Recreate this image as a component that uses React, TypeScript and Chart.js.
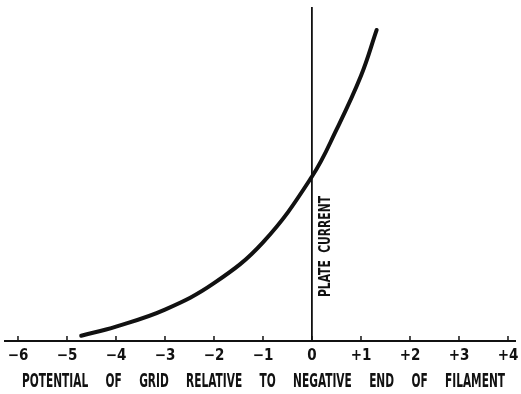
import React, { useEffect, useRef } from "react";
import { Chart, registerables } from "chart.js";

Chart.register(...registerables);

// Grid potential (volts) and plate current (relative units)
const gridPotential = [-4.71, -4.0, -3.0, -2.0, -1.0, 0.0, 0.5, 1.0, 1.32];
const plateCurrent = [5.3, 14.5, 31.5, 58, 99, 165, 212, 266, 312];
const xTicks = [-6, -5, -4, -3, -2, -1, 0, 1, 2, 3, 4];
const xTitleWords = ["POTENTIAL", "OF", "GRID", "RELATIVE", "TO", "NEGATIVE", "END", "OF", "FILAMENT"];
const yLabel = "PLATE  CURRENT";

const FONT = "'DejaVu Sans Condensed', 'DejaVu Sans', sans-serif";

const fmtTick = (v: number) => (v === 0 ? "0" : v > 0 ? "+" + v : "\u2212" + Math.abs(v));

const decorPlugin = {
  id: "decor",
  afterDraw(chart: any) {
    const { ctx, scales, chartArea } = chart;
    const xs = scales.x;
    const ys = scales.y;
    const y0 = ys.getPixelForValue(0);
    ctx.save();
    ctx.strokeStyle = "#111";
    ctx.lineWidth = 1.5;
    for (const t of xTicks) {
      const px = xs.getPixelForValue(t);
      ctx.beginPath();
      ctx.moveTo(px, y0);
      ctx.lineTo(px, y0 - 5);
      ctx.stroke();
    }
    ctx.restore();

    // axis title, condensed lettering, justified under the axis
    ctx.save();
    ctx.fillStyle = "#111";
    ctx.font = "bold 19px " + FONT;
    ctx.textBaseline = "middle";
    ctx.textAlign = "left";
    const sx = 0.62;
    const left = chartArea.left + 17;
    const right = chartArea.right - 10;
    const widths = xTitleWords.map((w) => ctx.measureText(w).width * sx);
    const total = widths.reduce((a, b) => a + b, 0);
    const gap = (right - left - total) / (xTitleWords.length - 1);
    const ty = y0 + 41;
    let cx = left;
    xTitleWords.forEach((w, i) => {
      ctx.save();
      ctx.translate(cx, ty);
      ctx.scale(sx, 1);
      ctx.fillText(w, 0, 0);
      ctx.restore();
      cx += widths[i] + gap;
    });
    ctx.restore();

    // vertical label beside the zero line
    const px0 = xs.getPixelForValue(0);
    ctx.save();
    ctx.fillStyle = "#111";
    ctx.font = "bold 15px " + FONT;
    ctx.textAlign = "left";
    ctx.textBaseline = "middle";
    const lw = ctx.measureText(yLabel).width;
    const lsx = 101 / lw;
    ctx.translate(px0 + 14, y0 - 44);
    ctx.rotate(-Math.PI / 2);
    ctx.scale(lsx, 1);
    ctx.fillText(yLabel, 0, 0);
    ctx.restore();
  },
};

export default function App() {
  const ref = useRef<HTMLCanvasElement | null>(null);
  useEffect(() => {
    if (!ref.current) return;
    const chart = new Chart(ref.current, {
      type: "scatter",
      data: {
        datasets: [
          {
            data: gridPotential.map((x, i) => ({ x, y: plateCurrent[i] })),
            showLine: true,
            borderColor: "#111",
            borderWidth: 4,
            pointRadius: 0,
            tension: 0.4,
            borderCapStyle: "round",
          },
        ],
      },
      options: {
        animation: false,
        responsive: false,
        layout: { padding: { left: 5, right: 6, top: 8, bottom: 23 } },
        plugins: { legend: { display: false }, tooltip: { enabled: false } },
        scales: {
          x: {
            type: "linear",
            min: -6.265,
            max: 4.143,
            grid: { display: false, drawTicks: false, tickLength: 0 },
            border: { display: true, color: "#111", width: 2 },
            ticks: {
              includeBounds: false,
              stepSize: 1,
              autoSkip: false,
              maxRotation: 0,
              color: "#111",
              padding: 6,
              font: { family: FONT, size: 15, weight: "bold" },
              callback: (v: any) => fmtTick(Number(v)),
            },
            afterBuildTicks: (s: any) => {
              s.ticks = xTicks.map((v) => ({ value: v }));
            },
            afterFit: (s: any) => {
              s.paddingLeft = 0;
              s.paddingRight = 0;
            },
          },
          y: {
            type: "linear",
            min: 0,
            max: 334,
            position: { x: 0 },
            grid: { display: false },
            border: { display: true, color: "#111", width: 1.8 },
            ticks: { display: false },
          },
        },
      },
      plugins: [decorPlugin],
    } as any);
    return () => chart.destroy();
  }, []);
  return (
    <div style={{ position: "fixed", left: 0, top: 0, width: 521, height: 394, background: "#fff" }}>
      <canvas ref={ref} width={521} height={394} style={{ width: 521, height: 394 }} />
    </div>
  );
}
